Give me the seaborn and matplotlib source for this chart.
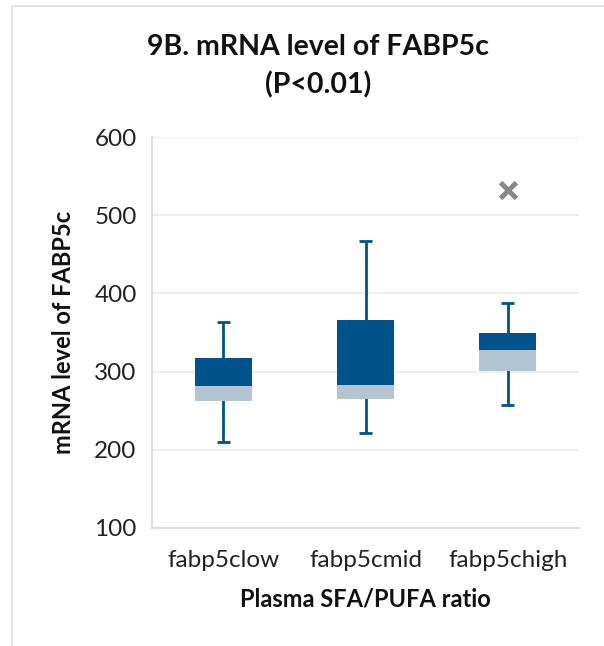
import matplotlib
matplotlib.use("Agg")
import matplotlib.pyplot as plt
import matplotlib.patches as mpatches
import seaborn as sns
import pandas as pd

# box statistics
groups = ["fabp5clow", "fabp5cmid", "fabp5chigh"]
whisker_low = [210, 222, 257]
q1 = [262, 265, 301]
median = [281, 283, 327]
q3 = [317, 366, 349]
whisker_high = [364, 467, 388]
outlier_group = ["fabp5chigh"]
outlier_value = [532]

dark = "#00538A"
light = "#B3C5D0"
grid = "#EBEBEB"
axis_c = "#D9D9D9"

df = pd.DataFrame({"group": groups, "q1": q1, "med": median, "q3": q3,
                   "lo": whisker_low, "hi": whisker_high})
df["lower"] = df["med"] - df["q1"]
df["upper"] = df["q3"] - df["med"]
out = pd.DataFrame({"group": outlier_group, "value": outlier_value})

sns.set_style("white")
plt.rcParams["font.family"] = ["Lato", "DejaVu Sans"]

fig = plt.figure(figsize=(6.04, 6.46), dpi=100)
ax = fig.add_axes([0.2517, 0.1827, 0.707, 0.6052])

# whiskers first so boxes sit on top
for i, row in df.iterrows():
    ax.vlines(i, row["lo"], row["hi"], color=dark, lw=2, zorder=2)
    ax.hlines([row["lo"], row["hi"]], i - 0.045, i + 0.045, color=dark, lw=2, zorder=2)

sns.barplot(data=df, x="group", y="lower", bottom=df["q1"], color=light,
            width=0.4, saturation=1, ax=ax, zorder=3, linewidth=0)
sns.barplot(data=df, x="group", y="upper", bottom=df["med"], color=dark,
            width=0.4, saturation=1, ax=ax, zorder=3, linewidth=0)
sns.scatterplot(data=out, x="group", y="value", marker="x", s=130,
                color="#878787", linewidth=3.5, ax=ax, zorder=4)

ax.set_xlim(-0.5, 2.5)
ax.set_ylim(100, 600)
ax.set_yticks([100, 200, 300, 400, 500, 600])
ax.yaxis.grid(True, color=grid, lw=1.2)
ax.set_axisbelow(True)
for s in ["top", "right"]:
    ax.spines[s].set_visible(False)
ax.spines["left"].set_color(axis_c)
ax.spines["bottom"].set_color(axis_c)
ax.spines["left"].set_linewidth(1.2)
ax.spines["bottom"].set_linewidth(1.2)
ax.tick_params(axis="y", length=7, color=grid, width=1.2, labelsize=17.5, labelcolor="#222222", pad=4)
ax.tick_params(axis="x", which="major", length=0, labelsize=17.5, labelcolor="#222222", pad=16)
ax.set_xticks([-0.5, 0.5, 1.5, 2.5], minor=True)
ax.tick_params(axis="x", which="minor", length=7, color=axis_c, width=1.2)

ax.set_xlabel("Plasma SFA/PUFA ratio", fontsize=17, fontweight="bold", color="#111111", labelpad=12)
ax.set_ylabel("mRNA level of FABP5c", fontsize=17, fontweight="bold", color="#111111", labelpad=14)
fig.text(0.527, 0.897, "9B. mRNA level of FABP5c\n(P<0.01)", ha="center", va="center",
         fontsize=20.5, fontweight="bold", color="#111111", linespacing=1.5)

# light chart border like the spreadsheet frame
fig.patches.append(mpatches.Rectangle((12 / 604, -0.1), 1.2, 1 - 6 / 646 + 0.1,
                                      transform=fig.transFigure, fill=False,
                                      edgecolor="#E6E6E6", lw=1.5))

fig.savefig("out.png", dpi=100)
